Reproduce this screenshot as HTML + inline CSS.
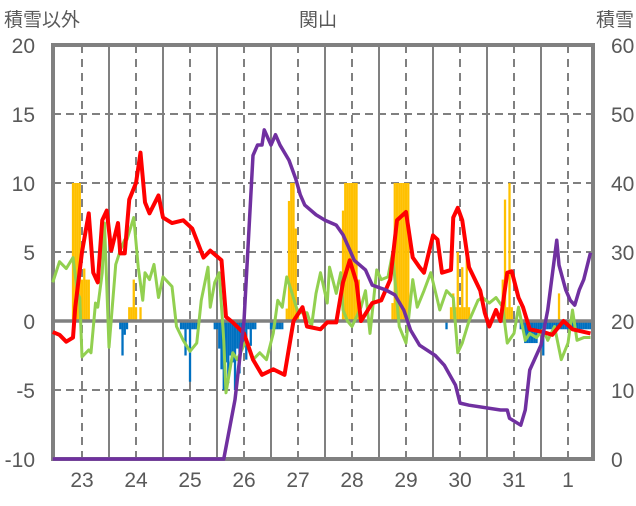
<!DOCTYPE html>
<html><head><meta charset="utf-8">
<style>
body{margin:0;background:#fff;width:636px;height:501px;overflow:hidden;font-family:"Liberation Sans","Noto Sans CJK JP",sans-serif;}
text{font-family:"Liberation Sans","Noto Sans CJK JP",sans-serif;fill:#595959;}
</style></head>
<body>
<svg id="chart" width="636" height="501"></svg>
<script>
// hours since 22日 00:00
const redT=[23,26,29,32,33,36,39,41,43,45,47,49,52,53,55,57,60,62,64,66,70,72,76,81,85,90,93,98,100,103,108,112,116,121,126,130,134,136,142,145,149,152,155,158,160,165,169,173,176,180,183,186,188,192,194,196,200,201,203,205,208,213,215,217,220,222,225,227,230,232,235,241,245,250,254,262];
const redV=[-0.8,-1.0,-1.5,-1.2,1,5,7.8,3.5,2.8,7.3,8,5.1,7.1,4.9,4.9,8.8,10,12.2,8.6,7.8,9.1,7.5,7.1,7.3,6.7,4.6,5.1,4.4,0.3,-0.1,-0.9,-2.8,-3.9,-3.5,-3.9,0,1,-0.4,-0.6,-0.1,-0.1,2.8,4.4,2.8,0,1.3,1.5,3,7.3,7.9,4.6,3.9,3.5,6.2,5.9,3.5,3.7,7.5,8.2,7.3,3.9,2.2,0.6,-0.4,0.8,0,3.5,3.6,1.7,1,-0.6,-0.8,-1,0,-0.6,-0.9];
const greenT=[23,26,29,32,34,35,36,39,40,42,43,45,46,48,51,53,55,56,59,61,63,64,66,68,70,72,76,78,81,84,87,89,92,93,95,97,99,100,103,105,109,112,115,118,121,123,125,127,129,132,134,136,138,140,142,145,146,149,151,152,154,156,160,162,164,167,169,172,174,177,180,183,185,188,191,194,195,198,201,203,205,208,212,214,217,220,223,225,228,230,233,235,238,241,243,246,249,252,254,256,259,262];
const greenV=[2.8,4.3,3.8,4.6,2,1.7,-2.6,-2.1,-2.3,1.3,1,3.5,7.1,-1.9,4.1,5.1,5.9,5.9,7.5,3.9,1.5,3.5,3,4.1,1.7,3.2,2.5,-0.4,-1.4,-2.2,-1.6,1.5,3.9,1,2.8,3.5,-1.4,-5.2,-2.3,-2.8,-1.4,-2.8,-2.3,-2.8,-0.9,1.5,1,3.2,2.2,0.6,0.6,0.6,-0.4,2,3.5,1.3,3.9,2,3.5,0.8,0,-0.4,1,2.2,-0.9,3.7,3,3.2,4.9,-0.4,-1.6,3,1,2.2,3.5,1.5,0.8,2.2,1.7,-2.3,-1.6,0,1.5,1.7,1.3,1.7,1,-1.6,-0.9,1,-1.4,-0.9,-1.2,-0.6,-1.4,-0.4,-2.8,-1.6,0.8,-1.4,-1.2,-1.2];
const purpleT=[23,99,104,108,110,112,114,116,117,120,122,124,128,131,133,135,140,144,149,152,155,157,162,165,171,175,179,182,186,193,197,202,204,208,222,225,226,231,233,235,240,243,247,248,251,253,255,257,259,262];
const purpleV=[0,0,8.6,20,32,44,45.5,45.5,47.7,45.5,47,45.5,43.3,40.6,38.3,36.8,35.4,34.6,33.9,32.5,30.3,28.8,27.4,25.2,24.5,23.8,21.6,18.7,16.5,15,13.6,10.7,8.1,7.8,7.1,7.1,5.9,4.9,7.1,12.9,16.5,21.6,31.7,28.1,24.5,23,22.3,24.5,26,29.9];
const orangeT=[32,33,34,35,36,37,38,39,57,58,59,60,62,127,128,129,130,131,132,152,153,154,155,156,157,158,159,174,175,176,177,178,179,180,181,200,201,202,203,204,205,206,207,208,223,224,225,226,227,248];
const orangeV=[10,10,10,10,3,3.8,3,3,1,1,3,1,1,0.9,8.7,10,10,6.7,0.9,8,10,10,10,10,10,10,3,1.3,10,10,10,10,10,10,10,1,2,1,5,1,3.9,1,5,1,3,8.8,1,10,1,2];
const blueT=[53,54,55,56,80,81,82,83,84,85,86,87,95,96,97,98,99,100,101,102,103,104,105,106,107,108,109,110,111,112,113,120,121,122,123,124,125,198,231,232,233,234,235,236,237,238,239,240,241,242,243,244,245,246,247,248,249,250,251,252,253,254,255,256,257,258,259,260,261,262];
const blueV=[-0.6,-2.5,-1,-0.6,-0.6,-0.6,-2.5,-0.6,-4.4,-0.6,-0.6,-0.6,-0.6,-0.6,-2,-3.5,-5,-3,-4.5,-2.5,-3,-5,-2,-3.8,-2,-1.5,-2.8,-0.6,-1.8,-0.6,-0.6,-0.6,-0.6,-0.6,-0.6,-0.6,-0.6,-0.6,-0.6,-0.6,-1.6,-1.6,-1.6,-1.6,-1.6,-1.6,-0.6,-0.6,-2.5,-0.6,-0.6,-0.6,-0.6,-0.6,-0.6,-0.6,-0.6,-0.6,-0.6,-0.6,-0.6,-0.6,-0.6,-0.6,-0.6,-0.6,-0.6,-0.6,-0.6,-0.6];
const leftTicks=[20,15,10,5,0,-5,-10];
const rightTicks=[60,50,40,30,20,10,0];
const dayLabels=['23','24','25','26','27','28','29','30','31','1'];

const NS='http://www.w3.org/2000/svg';
const svg=document.getElementById('chart');
const X0=53,X1=593,Y0=45,Y1=459;
const x=h=>82+(h-36)*2.25;
const yL=v=>Y1-(v+10)/30*(Y1-Y0);
const yR=v=>Y1-v/60*(Y1-Y0);
function mk(tag,attrs,parent){const e=document.createElementNS(NS,tag);for(const k in attrs)e.setAttribute(k,attrs[k]);(parent||svg).appendChild(e);return e;}

const grid=mk('g',{});


[15,10,5,-5].forEach(v=>{mk('line',{x1:X0,x2:X1,y1:yL(v),y2:yL(v),stroke:'#808080','stroke-width':2,'stroke-dasharray':'8,5'},grid);});
for(let d=0;d<11;d++){
  const hm=48+d*24, hn=36+d*24;
  if(x(hm)<X1-2) mk('line',{x1:x(hm),x2:x(hm),y1:Y0,y2:Y1,stroke:'#808080','stroke-width':2},grid);
  if(x(hn)<X1-2) mk('line',{x1:x(hn),x2:x(hn),y1:Y0,y2:Y1,stroke:'#808080','stroke-width':2,'stroke-dasharray':'8,6'},grid);
}

const bars=mk('g',{});


orangeT.forEach((t,i)=>{
  const b=mk('rect',{x:x(t)-1.13,y:yL(orangeV[i]),width:2.3,height:yL(0)-yL(orangeV[i]),fill:'#ffc000'},bars);
  
  
});
blueT.forEach((t,i)=>{
  const b=mk('rect',{x:x(t)-1.13,y:yL(0),width:2.3,height:yL(blueV[i])-yL(0),fill:'#0070c0'},bars);
  
  
});

const zero=mk('line',{x1:X0,x2:X1,y1:yL(0),y2:yL(0),stroke:'#808080','stroke-width':3.5});



const frame=mk('rect',{x:X0,y:Y0,width:X1-X0,height:Y1-Y0,fill:'none',stroke:'#808080','stroke-width':4});



function series(T,V,yf,color,w,name){
  const p=mk('polyline',{points:T.map((t,i)=>x(t)+','+yf(V[i])).join(' '),fill:'none',stroke:color,'stroke-width':w,'stroke-linejoin':'round'});
  
  
}
series(greenT,greenV,yL,'#92d050',3,'green-series');
series(redT,redV,yL,'#ff0000',4,'red-series');
series(purpleT,purpleV,yR,'#7030a0',3.5,'snow-depth-series');

leftTicks.forEach(v=>{const t=mk('text',{x:35,y:yL(v)+8,'text-anchor':'end','font-size':21});t.textContent=v;

});
rightTicks.forEach(v=>{const t=mk('text',{x:611,y:yR(v)+8,'text-anchor':'start','font-size':21});t.textContent=v;

});
dayLabels.forEach((s,i)=>{const t=mk('text',{x:x(36+i*24),y:487,'text-anchor':'middle','font-size':21});t.textContent=s;

});

const t1=mk('text',{x:4,y:26,'font-size':19});t1.textContent='積雪以外';


const t2=mk('text',{x:318,y:26,'font-size':19,'text-anchor':'middle'});t2.textContent='関山';


const t3=mk('text',{x:634,y:26,'font-size':19,'text-anchor':'end'});t3.textContent='積雪';


</script>
</body></html>
